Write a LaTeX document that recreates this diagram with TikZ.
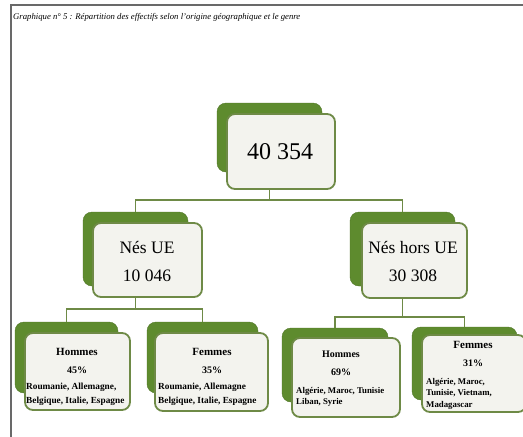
\documentclass[tikz,border=0pt]{standalone}
\usepackage{fontspec}
\setmainfont{Liberation Serif}
\definecolor{leaf}{RGB}{94,139,46}
\definecolor{rim}{RGB}{110,138,70}
\definecolor{paper}{RGB}{243,243,238}
\definecolor{framegray}{RGB}{105,105,105}
\tikzset{
  backbox/.style={fill=leaf, draw=leaf!85!black, line width=0.4pt, rounded corners=9pt, inner sep=0pt},
  frontbox/.style={fill=paper, draw=rim, line width=1.8pt, rounded corners=8pt, inner sep=0pt},
  link/.style={draw=rim, line width=1.4pt},
  bigtxt/.style={font=\fontsize{24}{24}\selectfont, inner sep=0pt},
  midtxt/.style={font=\fontsize{17.5}{28}\selectfont, align=center, inner sep=0pt},
  headtxt/.style={font=\fontsize{11}{13}\selectfont\bfseries, inner sep=0pt},
  pcttxt/.style={font=\fontsize{10}{12}\selectfont\bfseries, inner sep=0pt},
  listtxt/.style={align=left, anchor=west, inner sep=0pt},
  titletxt/.style={font=\fontsize{8.7}{10}\selectfont\itshape, anchor=west, inner sep=0pt}
}
\begin{document}
\begin{tikzpicture}[x=1pt,y=-1pt]
\path[use as bounding box] (0,0) rectangle (523,437);
\clip (0,0) rectangle (523,437);
\fill[white] (0,0) rectangle (523,437);
% frame
\draw[framegray, line width=1.5pt] (11,437) -- (11,5) -- (523,5);
% title
\node[titletxt] (title) at (13,17) {Graphique n° 5 : Répartition des effectifs selon l'origine géographique et le genre};

% back boxes
\node[backbox, minimum width=105pt, minimum height=69pt] (g0) at (269.5,137.5) {};
\node[backbox, minimum width=105pt, minimum height=74pt] (g1) at (135.5,249) {};
\node[backbox, minimum width=105pt, minimum height=74pt] (g2) at (402.5,249) {};
\node[backbox, minimum width=103pt, minimum height=71pt] (g3) at (66.5,357.5) {};
\node[backbox, minimum width=111pt, minimum height=71pt] (g4) at (202.5,357.5) {};
\node[backbox, minimum width=106pt, minimum height=74pt] (g5) at (335,365) {};
\node[backbox, minimum width=105pt, minimum height=73pt] (g6) at (464.5,363.5) {};

% junctions
\coordinate (j0) at (269.5,200);
\coordinate (j1) at (135.5,309);
\coordinate (j2) at (402.5,317);

% front boxes
\node[frontbox, minimum width=108pt, minimum height=75pt] (w0) at (281,151.5) {};
\node[frontbox, minimum width=109pt, minimum height=74pt] (w1) at (147.5,260) {};
\node[frontbox, minimum width=105pt, minimum height=75pt] (w2) at (414.5,260.5) {};
\node[frontbox, minimum width=105pt, minimum height=77pt] (w3) at (77.5,371.5) {};
\node[frontbox, minimum width=113pt, minimum height=78pt] (w4) at (211.5,372) {};
\node[frontbox, minimum width=108pt, minimum height=79pt] (w5) at (346,377.5) {};
\node[frontbox, minimum width=104pt, minimum height=77pt] (w6) at (474,373.5) {};

% connectors
\draw[link] (g0.center |- w0.south) -- (j0);
\draw[link] (g1.north) |- (j0) -| (g2.north);
\draw[link] (g1.center |- w1.south) -- (j1);
\draw[link] (g3.north) |- (j1) -| (g4.north);
\draw[link] (g2.center |- w2.south) -- (j2);
\draw[link] (g5.north) |- (j2) -| (g6.north);

% texts
\node[bigtxt] (t0) at (280,152) {40 354};
\node[midtxt] (t1) at (147,261) {Nés UE\\10 046};
\node[midtxt] (t2) at (413,261) {Nés hors UE\\30 308};

\node[headtxt] (h3) at (77,352) {Hommes};
\node[pcttxt] (p3) at (77,370) {45\%};
\node[listtxt, font=\fontsize{9.3}{14}\selectfont\bfseries] (l3) at (26,394) {Roumanie, Allemagne,\\Belgique, Italie, Espagne};

\node[headtxt] (h4) at (212,352) {Femmes};
\node[pcttxt] (p4) at (212,370) {35\%};
\node[listtxt, font=\fontsize{9.3}{14}\selectfont\bfseries] (l4) at (158,394) {Roumanie, Allemagne\\Belgique, Italie, Espagne};

\node[headtxt, font=\fontsize{10}{12}\selectfont\bfseries] (h5) at (341,354) {Hommes};
\node[pcttxt] (p5) at (341,372) {69\%};
\node[listtxt, font=\fontsize{8.8}{10.5}\selectfont\bfseries] (l5) at (296,397) {Algérie, Maroc, Tunisie\\Liban, Syrie};

\node[headtxt] (h6) at (473,345) {Femmes};
\node[pcttxt] (p6) at (473,363) {31\%};
\node[listtxt, font=\fontsize{8.8}{11.5}\selectfont\bfseries] (l6) at (426,393.5) {Algérie, Maroc,\\Tunisie, Vietnam,\\Madagascar};
\end{tikzpicture}
\end{document}
